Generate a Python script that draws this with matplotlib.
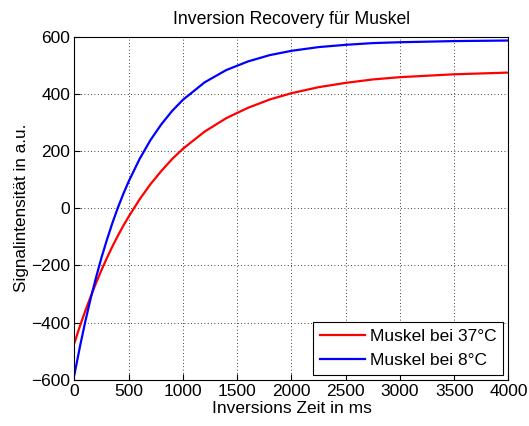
import matplotlib
matplotlib.use("Agg")
import matplotlib.pyplot as plt

# Inversion times in ms
ti_ms = [0, 50, 100, 150, 200, 250, 300, 350, 400, 450, 500, 600, 700, 800,
         900, 1000, 1200, 1400, 1600, 1800, 2000, 2250, 2500, 2750, 3000,
         3500, 4000]

# Signal intensity (a.u.) for muscle at 37 °C
signal_37 = [-470, -412, -358, -308, -260, -215, -173, -133, -96, -61, -29,
             31, 84, 130, 172, 208, 268, 315, 351, 380, 402, 423, 438, 450,
             458, 468, 474]

# Signal intensity (a.u.) for muscle at 8 °C
signal_8 = [-580, -484, -395, -314, -240, -171, -109, -51, 2, 50, 94, 172,
            238, 293, 340, 379, 440, 483, 513, 535, 550, 563, 571, 577, 580,
            584, 586]

labels = ["Muskel bei 37°C", "Muskel bei 8°C"]
x_ticks = [0, 500, 1000, 1500, 2000, 2500, 3000, 3500, 4000]
y_ticks = [-600, -400, -200, 0, 200, 400, 600]

plt.rcParams["font.family"] = ["Liberation Sans", "DejaVu Sans"]
FS = 12.5

fig = plt.figure(figsize=(5.29, 4.26), dpi=100)
ax = fig.add_axes([0.1408, 0.108, 0.9612 - 0.1408, 0.9143 - 0.108])

ax.plot(ti_ms, signal_37, color="#ff0000", lw=1.6, label=labels[0])
ax.plot(ti_ms, signal_8, color="#0000ff", lw=1.6, label=labels[1])

ax.set_xlim(0, 4000)
ax.set_ylim(-600, 600)
ax.set_xticks(x_ticks)
ax.set_yticks(y_ticks)
ax.tick_params(direction="in", length=4, width=0.8, labelsize=FS,
               top=False, right=False, pad=3)
ax.grid(True, color="black", linestyle=(0, (1, 3)), linewidth=0.6)
for s in ax.spines.values():
    s.set_linewidth(0.8)

ax.set_title("Inversion Recovery für Muskel", fontsize=12.7, pad=9)
ax.set_xlabel("Inversions Zeit in ms", fontsize=FS, labelpad=1)
ax.set_ylabel("Signalintensität in a.u.", fontsize=12.3, labelpad=2)

leg = ax.legend(loc="lower right", fontsize=FS, frameon=True, fancybox=False,
                edgecolor="black", framealpha=1, handlelength=2.6,
                borderaxespad=0.3, labelspacing=0.5, handletextpad=0.25,
                borderpad=0.4)
leg.get_frame().set_linewidth(0.8)

fig.savefig("out.png", dpi=100)
